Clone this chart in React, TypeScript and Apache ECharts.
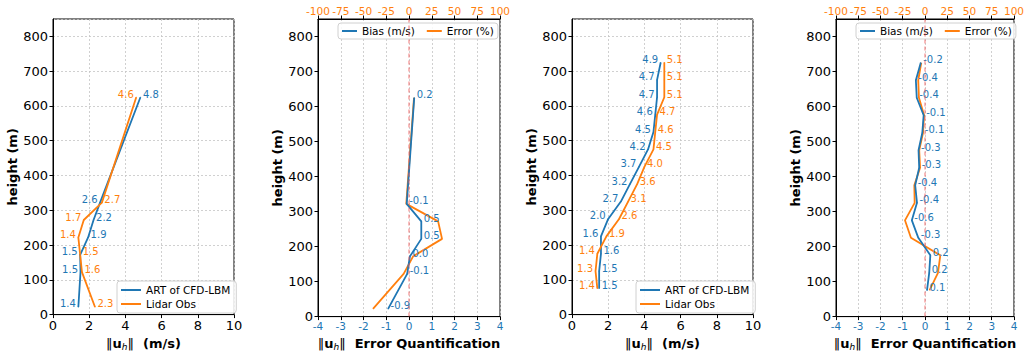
import React, { useEffect, useRef } from 'react';
import * as echarts from 'echarts';

// ---------- data ----------
const heightsA = [22, 122, 172, 222, 272, 322, 625];
const artA = [1.4, 1.52, 1.5, 1.94, 2.24, 2.6, 4.83];
const lidarA = [2.32, 1.6, 1.5, 1.4, 1.7, 2.7, 4.6];
const biasA = [-0.92, -0.08, 0.04, 0.54, 0.54, -0.1, 0.23];
const errA = [-39.6, -5.9, 4.5, 36.3, 32.0, -3.0, 5.5];

const heightsB = [75, 125, 175, 225, 275, 325, 375, 425, 475, 525, 575, 625, 675, 725];
const artB = [1.5, 1.5, 1.6, 1.6, 2.0, 2.7, 3.2, 3.7, 4.2, 4.5, 4.6, 4.7, 4.7, 4.9];
const lidarB = [1.4, 1.3, 1.4, 1.9, 2.6, 3.1, 3.6, 4.0, 4.5, 4.6, 4.7, 5.1, 5.1, 5.1];
const biasB = [0.09, 0.19, 0.24, -0.3, -0.59, -0.36, -0.44, -0.26, -0.29, -0.12, -0.06, -0.37, -0.41, -0.19];
const errB = [5.0, 14.6, 17.2, -15.8, -22.5, -11.6, -12.0, -5.5, -6.5, -2.2, -1.0, -6.8, -7.6, -4.2];

const speedNames = ['ART of CFD-LBM', 'Lidar Obs'];
const errorNames = ['Bias (m/s)', 'Error (%)'];

const FONT = 'DejaVu Sans';
const BLUE = '#1f77b4';
const ORANGE = '#ff7f0e';

const gridLine = { show: true, lineStyle: { color: '#c4c4c4', type: [2, 2], width: 0.8 } };
const blackLine = { show: true, onZero: false, lineStyle: { color: '#000', width: 1 } };
const tick = { show: true, length: 3.5, inside: false, lineStyle: { color: '#000', width: 1 } };

const uhRich = {
  n: { fontSize: 13, fontWeight: 'normal', color: '#000', fontFamily: FONT },
  u: { fontSize: 13, fontWeight: 'bold', color: '#000', fontFamily: FONT },
  s: { fontSize: 9, fontStyle: 'italic', fontWeight: 'normal', color: '#000', fontFamily: FONT, verticalAlign: 'bottom', lineHeight: 16 },
  t: { fontSize: 13, fontWeight: 'bold', color: '#000', fontFamily: FONT },
};

function yAxisFor(gridIndex: number, grid: boolean) {
  return {
    type: 'value', gridIndex, min: 0, max: 850, interval: 100,
    name: 'height (m)', nameLocation: 'middle', nameGap: 29, nameRotate: 90,
    nameTextStyle: { fontSize: 13, fontWeight: 'bold', color: '#000', fontFamily: FONT },
    axisLine: blackLine, axisTick: tick,
    axisLabel: { fontSize: 13, color: '#000', margin: 5, fontFamily: FONT, showMaxLabel: false },
    splitLine: grid ? gridLine : { show: false },
  };
}

function speedX(gridIndex: number) {
  return {
    type: 'value', gridIndex, min: 0, max: 10, interval: 2, position: 'bottom',
    name: '{n|‖}{u|u}{s|h}{n|‖}{t|  (m/s)}', nameLocation: 'middle', nameGap: 19,
    nameTextStyle: { rich: uhRich },
    axisLine: blackLine, axisTick: tick,
    axisLabel: { fontSize: 13, color: '#000', margin: 4, fontFamily: FONT },
    splitLine: gridLine,
  };
}

function biasX(gridIndex: number) {
  return {
    type: 'value', gridIndex, min: -4, max: 4, interval: 1, position: 'bottom',
    name: '{n|‖}{u|u}{s|h}{n|‖}{t|  Error Quantification}', nameLocation: 'middle', nameGap: 18,
    nameTextStyle: { rich: uhRich },
    axisLine: blackLine, axisTick: tick,
    axisLabel: { fontSize: 10.5, color: BLUE, margin: 4, fontFamily: FONT },
    splitLine: gridLine,
  };
}

function errX(gridIndex: number) {
  return {
    type: 'value', gridIndex, min: -100, max: 100, interval: 25, position: 'top',
    axisLine: blackLine, axisTick: tick,
    axisLabel: { fontSize: 10.5, color: ORANGE, margin: 3, fontFamily: FONT },
    splitLine: { show: false },
  };
}

const fmt = (p: any) => Number(p.value[0]).toFixed(1);

function speedSeries(name: string, vals: number[], other: number[], heights: number[], xi: number, yi: number, color: string, isBlue: boolean) {
  return {
    type: 'line', name, xAxisIndex: xi, yAxisIndex: yi,
    symbol: 'circle', symbolSize: 1, showSymbol: true,
    itemStyle: { color },
    lineStyle: { color, width: 1.8 },
    label: { show: true, distance: 2, offset: [0, -3], fontSize: 10, color, fontFamily: FONT, formatter: fmt },
    data: vals.map((v, i) => ({
      value: [v, heights[i]],
      label: { position: (isBlue ? v > other[i] : v >= other[i]) ? 'right' : 'left', color },
    })),
  };
}

function biasSeries(vals: number[], heights: number[], xi: number, yi: number) {
  return {
    type: 'line', name: errorNames[0], xAxisIndex: xi, yAxisIndex: yi,
    symbol: 'circle', symbolSize: 1, showSymbol: true, z: 3,
    itemStyle: { color: BLUE },
    lineStyle: { color: BLUE, width: 1.8 },
    label: { show: true, position: 'right', distance: 2, offset: [0, -3], fontSize: 10, color: BLUE, fontFamily: FONT, formatter: fmt },
    data: vals.map((v, i) => [v, heights[i]]),
    markLine: {
      silent: true, symbol: 'none', label: { show: false },
      lineStyle: { color: 'rgba(240,90,90,0.55)', type: [4, 3], width: 1.5 },
      data: [{ xAxis: 0 }],
    },
  };
}

function errSeries(vals: number[], heights: number[], xi: number, yi: number) {
  return {
    type: 'line', name: errorNames[1], xAxisIndex: xi, yAxisIndex: yi,
    symbol: 'none', z: 2,
    itemStyle: { color: ORANGE },
    lineStyle: { color: ORANGE, width: 1.8 },
    data: vals.map((v, i) => [v, heights[i]]),
  };
}

const legendBase = {
  icon: 'rect', itemWidth: 20, itemHeight: 2,
  backgroundColor: 'rgba(255,255,255,0.85)', borderColor: '#d0d0d0', borderWidth: 1, borderRadius: 3,
  textStyle: { fontSize: 10.5, color: '#000', fontFamily: FONT, lineHeight: 12 },
  selectedMode: false,
};

export default function App() {
  const ref = useRef<HTMLDivElement>(null);
  useEffect(() => {
    if (!ref.current) return;
    const chart = echarts.init(ref.current, undefined, { renderer: 'svg' });
    const gridCommon = { top: 19, height: 299, show: true, borderColor: '#000', borderWidth: 1, backgroundColor: 'transparent' };
    chart.setOption({
      animation: false,
      textStyle: { fontFamily: FONT },
      grid: [
        { ...gridCommon, left: 53, width: 181 },
        { ...gridCommon, left: 318, width: 182 },
        { ...gridCommon, left: 572, width: 181 },
        { ...gridCommon, left: 836, width: 182 },
      ],
      xAxis: [speedX(0), biasX(1), errX(1), speedX(2), biasX(3), errX(3)],
      yAxis: [yAxisFor(0, true), yAxisFor(1, false), yAxisFor(2, true), yAxisFor(3, false)],
      legend: [
        { ...legendBase, orient: 'vertical', left: 117, top: 281, itemGap: 2, padding: [3, 6, 3, 4], data: speedNames },
        { ...legendBase, orient: 'horizontal', left: 338, top: 23, itemWidth: 15, itemGap: 12, padding: [2, 4, 2, 4], data: errorNames },
        { ...legendBase, orient: 'vertical', left: 636, top: 281, itemGap: 2, padding: [3, 6, 3, 4], data: speedNames },
        { ...legendBase, orient: 'horizontal', left: 856, top: 23, itemWidth: 15, itemGap: 12, padding: [2, 4, 2, 4], data: errorNames },
      ],
      series: [
        speedSeries(speedNames[0], artA, lidarA, heightsA, 0, 0, BLUE, true),
        speedSeries(speedNames[1], lidarA, artA, heightsA, 0, 0, ORANGE, false),
        biasSeries(biasA, heightsA, 1, 1),
        errSeries(errA, heightsA, 2, 1),
        speedSeries(speedNames[0], artB, lidarB, heightsB, 3, 2, BLUE, true),
        speedSeries(speedNames[1], lidarB, artB, heightsB, 3, 2, ORANGE, false),
        biasSeries(biasB, heightsB, 4, 3),
        errSeries(errB, heightsB, 5, 3),
      ],
    });
    return () => chart.dispose();
  }, []);
  return <div ref={ref} style={{ position: 'absolute', left: 0, top: 0, width: 1027, height: 356 }} />;
}
